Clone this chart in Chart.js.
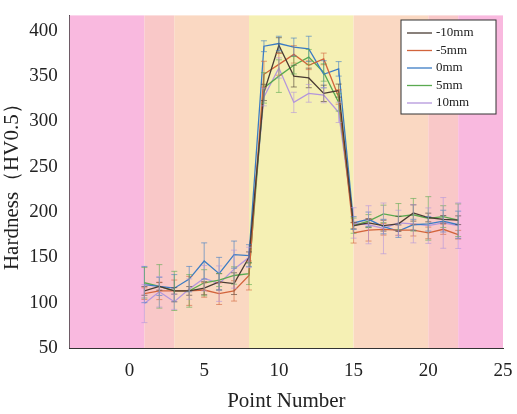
<!DOCTYPE html>
<html><head><meta charset="utf-8">
<script src="https://cdn.jsdelivr.net/npm/chart.js@4"></script>
<style>html,body{margin:0;padding:0;background:#fff}#w{width:517px;height:414px}</style>
</head><body><div id="w"><canvas id="c"></canvas></div>
<script>
const points = [1,2,3,4,5,6,7,8,9,10,11,12,13,14,15,16,17,18,19,20,21,22];
const seriesNames = ['-10mm','-5mm','0mm','5mm','10mm'];
const seriesColors = ['#4a3c34','#d2643c','#3c7cc4','#5aaa50','#b496dc'];
const m10 = [113,118,113,113,116,123,121,150,332,384,350,348,331,334,185,188,185,187,199,194,192,191];
const m5  = [110,113,113,113,114,110,113,130,352,363,374,362,369,327,177,180,181,180,180,177,181,175];
const z0  = [120,118,116,126,146,132,153,152,383,386,382,380,352,358,188,192,184,179,186,187,190,186];
const p5  = [122,118,113,113,122,125,130,132,337,350,362,371,354,321,185,190,198,195,197,193,195,191];
const p10 = [99,112,101,115,127,121,137,150,327,359,321,331,329,310,188,186,182,188,187,185,188,185];
const errs = [8,7,6,8,12,15,20,10,15,14,20,18,15,12,6,8,10,14,15,8,7,8];
const bands = [[-4,1,'#f9b9df'],[1,3,'#f9c8c8'],[3,8,'#fad8c2'],[8,15,'#f5f0b4'],[15,20,'#fad8c2'],[20,22,'#f9c8c8'],[22,25,'#f9b9df']];
const allSeries = [m10,m5,z0,p5,p10];

const bg = {id:'bg',beforeDatasetsDraw(ch){const {ctx,chartArea:a,scales:{x}}=ch;ctx.save();
  bands.forEach(b=>{ctx.fillStyle=b[2];const x0=x.getPixelForValue(b[0]),x1=x.getPixelForValue(b[1]);ctx.fillRect(x0,a.top,x1-x0,a.bottom-a.top);});
  ctx.restore();}};
const eb = {id:'eb',afterDatasetsDraw(ch){const {ctx,scales:{x,y}}=ch;ctx.save();ctx.lineWidth=1;
  allSeries.forEach((s,i)=>{ctx.strokeStyle=seriesColors[i]+'99';
    s.forEach((v,j)=>{const e=errs[(j+i*3)%errs.length]*(0.6+0.2*i);const px=x.getPixelForValue(points[j]);
      const t=y.getPixelForValue(v+e),b=y.getPixelForValue(v-e);
      ctx.beginPath();ctx.moveTo(px,t);ctx.lineTo(px,b);ctx.moveTo(px-3,t);ctx.lineTo(px+3,t);ctx.moveTo(px-3,b);ctx.lineTo(px+3,b);ctx.stroke();});});
  ctx.restore();}};
const lg = {id:'lg',afterDraw(ch){const {ctx}=ch;ctx.save();
  ctx.fillStyle='#fff';ctx.strokeStyle='#333';ctx.lineWidth=1;ctx.fillRect(401,20,95,94);ctx.strokeRect(401,20,95,94);
  ctx.font='13px "Liberation Serif"';ctx.textBaseline='middle';
  seriesNames.forEach((n,i)=>{const yy=33+i*17.5;ctx.strokeStyle=seriesColors[i];ctx.lineWidth=1.3;ctx.beginPath();ctx.moveTo(407,yy);ctx.lineTo(432,yy);ctx.stroke();
    ctx.fillStyle='#222';ctx.fillText(n,436,yy);});
  ctx.restore();}};

new Chart(document.getElementById('c'),{type:'line',
  data:{datasets:allSeries.map((s,i)=>({label:seriesNames[i],data:s.map((v,j)=>({x:points[j],y:v})),borderColor:seriesColors[i],borderWidth:1.3,pointRadius:0,tension:0}))},
  options:{responsive:true,maintainAspectRatio:false,animation:false,
    layout:{padding:{top:8,right:14,left:0,bottom:0}},
    plugins:{legend:{display:false},tooltip:{enabled:false}},
    scales:{
      x:{type:'linear',min:-4,max:25,afterBuildTicks(s){s.ticks=[0,5,10,15,20,25].map(v=>({value:v}));},
        grid:{display:false},border:{color:'#333',width:1},
        ticks:{color:'#222',padding:4,font:{family:'Liberation Serif',size:19}},
        title:{display:true,text:'Point Number',color:'#222',font:{family:'Liberation Serif',size:21},padding:{top:2,bottom:0}}},
      y:{min:50,max:417,afterBuildTicks(s){s.ticks=[50,100,150,200,250,300,350,400].map(v=>({value:v}));},
        grid:{display:false},border:{color:'#333',width:1},
        ticks:{color:'#222',padding:4,font:{family:'Liberation Serif',size:19}},
        title:{display:true,text:'Hardness（HV0.5）',color:'#222',font:{family:'Liberation Serif',size:21},padding:{top:0,bottom:0}}},
      x2:{display:false}
    }},
  plugins:[bg,eb,lg]});
</script></body></html>
